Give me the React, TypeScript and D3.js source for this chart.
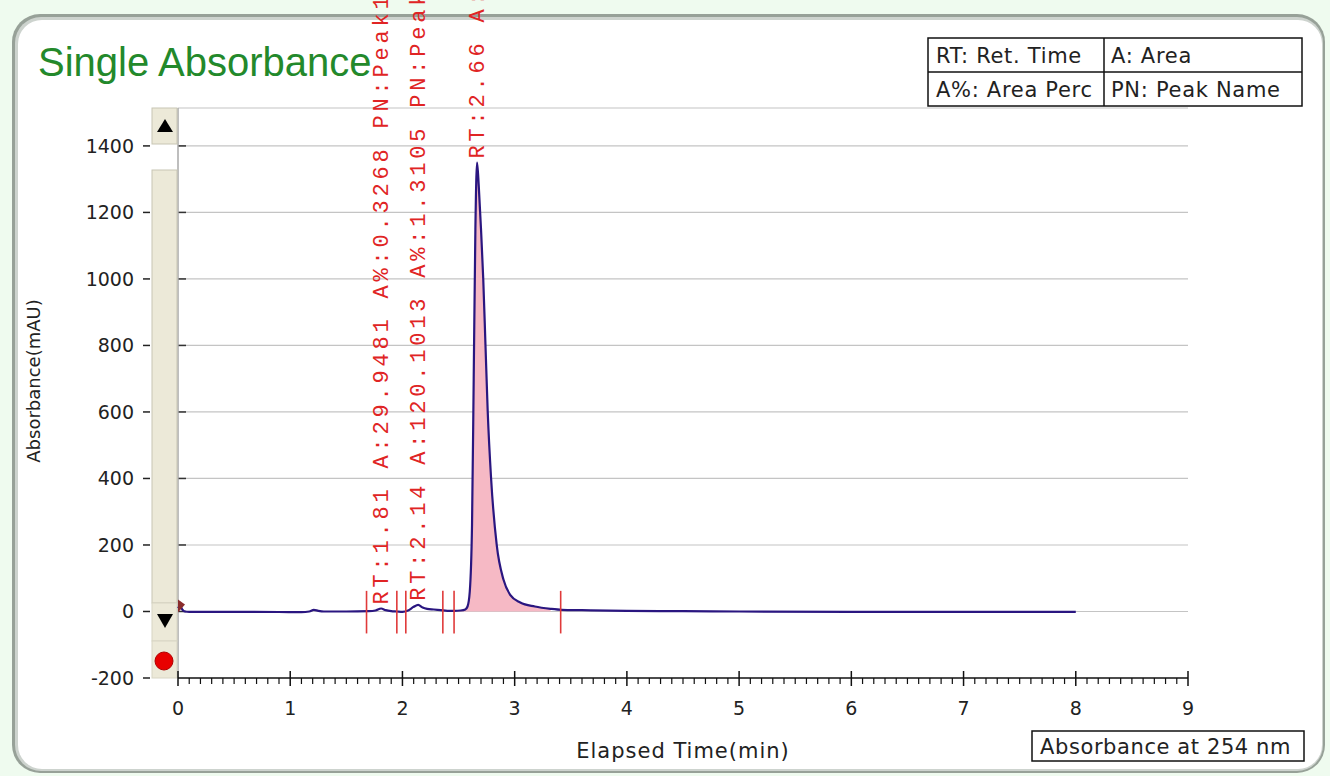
import React from 'react';
import * as d3 from 'd3';

// ---- data ----
const traceTime = [0, 0.02, 0.04, 0.06, 0.1, 0.3, 0.6, 0.9, 1.1, 1.17, 1.21, 1.25, 1.3, 1.5, 1.7, 1.76, 1.81, 1.85, 1.9, 1.95, 2.0, 2.05, 2.1, 2.14, 2.18, 2.22, 2.28, 2.34, 2.4, 2.46, 2.52, 2.56, 2.58, 2.6, 2.62, 2.635, 2.65, 2.665, 2.68, 2.7, 2.72, 2.74, 2.76, 2.79, 2.84, 2.9, 2.96, 3.05, 3.18, 3.32, 3.42, 3.6, 4.0, 4.5, 5.0, 6.0, 7.0, 8.0];
const traceAbs = [10, 16, 5, 0, -1, -1, -1, -1.5, -2, 0, 5, 2, 0, 0, 1, 3, 9, 4, 1, 0, -1, 3, 14, 20, 12, 8, 6, 4, 2, 2, 3, 6, 15, 60, 260, 700, 1150, 1350, 1280, 1150, 1000, 800, 600, 400, 200, 96, 50, 27, 15, 8, 5, 4, 2, 1, 0, -1, -1, -1];
const xTicks = [0, 1, 2, 3, 4, 5, 6, 7, 8, 9];
const yTicks = [-200, 0, 200, 400, 600, 800, 1000, 1200, 1400];
const eventTimes = [1.68, 1.95, 2.03, 2.36, 2.46, 3.41];
const filledPeakStart = 2.46;
const filledPeakEnd = 3.41;
const peakRT = [1.81, 2.14, 2.66];
const peakHeight = [9, 20, 1350];
const peakLabels = [
  'RT:1.81 A:29.9481 A%:0.3268 PN:Peak1',
  'RT:2.14 A:120.1013 A%:1.3105 PN:Peak2',
  'RT:2.66 A:9014.2767 A%:98.3627 PN:Peak3',
];
const legendRows = [
  ['RT: Ret. Time', 'A: Area'],
  ['A%: Area Perc', 'PN: Peak Name'],
];
const titleText = 'Single Absorbance';
const xLabel = 'Elapsed Time(min)';
const yLabel = 'Absorbance(mAU)';
const detectorText = 'Absorbance at 254 nm';

const W = 1330;
const H = 776;
const PL = 178, PR = 1188, PT = 108, PB = 678;

export default function App() {
  const x = d3.scaleLinear().domain([0, 9]).range([PL, PR]);
  const y = d3.scaleLinear().domain([-200, 1514]).range([PB, PT]);
  const pts: [number, number][] = traceTime.map((t, i) => [t, traceAbs[i]]);
  const line = d3.line<[number, number]>().x(d => x(d[0])).y(d => y(d[1])).curve(d3.curveMonotoneX);
  const area = d3.area<[number, number]>().x(d => x(d[0])).y0(y(0)).y1(d => y(d[1])).curve(d3.curveMonotoneX);
  const fillPts = pts.filter(d => d[0] >= filledPeakStart && d[0] <= filledPeakEnd);
  const minor = d3.range(0, 90).map(i => i / 10).filter(v => Math.abs(v - Math.round(v)) > 1e-6);
  const sans = 'DejaVu Sans, Verdana, sans-serif';

  return (
    <svg width={W} height={H} style={{ position: 'absolute', left: 0, top: 0, background: '#effbef' }}>
      {/* outer frame */}
      <rect x={12} y={14} width={1313} height={759} rx={28} fill="#97a198" />
      <rect x={15} y={17} width={1308} height={754} rx={26} fill="#cdd3ce" />
      <rect x={18} y={20} width={1304} height={749} rx={24} fill="#ffffff" />

      {/* title */}
      <text x={38} y={76} fontFamily="Liberation Sans, Arial, sans-serif" fontSize={40} fill="#23892b">{titleText}</text>

      {/* grid */}
      {yTicks.filter(v => v > -200).map(v => (
        <g key={'g' + v}>
          <line x1={PL} x2={PR} y1={y(v)} y2={y(v)} stroke="#c4c4c4" strokeWidth={1.2} />
          <line x1={PL} x2={PL + 8} y1={y(v)} y2={y(v)} stroke="#333" strokeWidth={1.5} />
        </g>
      ))}
      <line x1={PL} x2={PR} y1={PT} y2={PT} stroke="#c4c4c4" strokeWidth={1.2} />
      <line x1={PL} x2={PL} y1={PT} y2={PB} stroke="#a8a8a8" strokeWidth={1.5} />

      {/* y tick labels */}
      {yTicks.map(v => (
        <g key={'yt' + v}>
          <text x={134} y={y(v) + 7} textAnchor="end" fontFamily={sans} fontSize={19} fill="#222">{v}</text>
          <line x1={143} x2={150} y1={y(v)} y2={y(v)} stroke="#222" strokeWidth={1.5} />
        </g>
      ))}

      {/* scroll bar */}
      <rect x={152} y={PT} width={25} height={36} fill="#ece9d8" stroke="#c8c5b4" />
      <path d={`M165,${PT + 11} L173,${PT + 24} L157,${PT + 24} Z`} fill="#000" />
      <rect x={152} y={170} width={25} height={433} fill="#ece9d8" stroke="#c8c5b4" />
      <rect x={152} y={603} width={25} height={38} fill="#ece9d8" stroke="#d8d5c4" />
      <path d={`M157,614 L173,614 L165,628 Z`} fill="#000" />
      <rect x={152} y={641} width={25} height={37} fill="#ece9d8" stroke="#d8d5c4" />
      <circle cx={164} cy={661} r={9} fill="#e80000" stroke="#b00000" strokeWidth={1} />

      {/* x axis */}
      <line x1={PL} x2={PR} y1={PB} y2={PB} stroke="#111" strokeWidth={1.5} />
      {minor.map(v => (
        <line key={'mn' + v} x1={x(v)} x2={x(v)} y1={PB} y2={PB + 6} stroke="#111" strokeWidth={1.2} />
      ))}
      {xTicks.map(v => (
        <g key={'xt' + v}>
          <line x1={x(v)} x2={x(v)} y1={PB - 7} y2={PB + 8} stroke="#111" strokeWidth={1.5} />
          <text x={x(v)} y={715} textAnchor="middle" fontFamily={sans} fontSize={19} fill="#222">{v}</text>
        </g>
      ))}

      {/* axis titles */}
      <text x={(PL + PR) / 2} y={758} textAnchor="middle" fontFamily={sans} fontSize={21} letterSpacing={1} fill="#222">{xLabel}</text>
      <text transform={`translate(40, 381) rotate(-90)`} textAnchor="middle" fontFamily={sans} fontSize={18} fill="#222">{yLabel}</text>

      {/* chromatogram */}
      <path d={area(fillPts) || ''} fill="#f6b9c5" />
      <path d={line(pts) || ''} fill="none" stroke="#2a1680" strokeWidth={2.2} />
      <path d={`M${x(0)},${y(0) + 1} L${x(0)},${y(0) - 12} L${x(0) + 7},${y(0) - 7} Z`} fill="#8a2c2c" />

      {/* integration events */}
      {eventTimes.map(t => (
        <line key={'ev' + t} x1={x(t)} x2={x(t)} y1={y(62)} y2={y(-66)} stroke="#e03a3a" strokeWidth={1.6} />
      ))}

      {/* peak labels */}
      {peakRT.map((rt, i) => {
        const bottom = Math.min(y(peakHeight[i]), y(0)) - 4;
        return (
          <text key={'pl' + i} transform={`translate(${x(rt) + 7}, ${bottom}) rotate(-90)`}
            fontFamily="Liberation Mono, Courier New, monospace" fontSize={22} letterSpacing={3.8} fill="#e02424">
            {peakLabels[i]}
          </text>
        );
      })}

      {/* legend table */}
      <rect x={928} y={38} width={374} height={68} fill="#fff" stroke="#111" strokeWidth={1.5} />
      <line x1={928} x2={1302} y1={72} y2={72} stroke="#111" strokeWidth={1.5} />
      <line x1={1104} x2={1104} y1={38} y2={106} stroke="#111" strokeWidth={1.5} />
      {legendRows.map((row, r) => row.map((cell, c) => (
        <text key={'lg' + r + c} x={c === 0 ? 936 : 1111} y={63 + r * 34} fontFamily={sans} fontSize={21} letterSpacing={0.7} fill="#222">{cell}</text>
      )))}

      {/* detector box */}
      <rect x={1032} y={731} width={272} height={30} fill="#fff" stroke="#111" strokeWidth={1.5} />
      <text x={1040} y={754} fontFamily={sans} fontSize={21} letterSpacing={0.6} fill="#222">{detectorText}</text>
    </svg>
  );
}
